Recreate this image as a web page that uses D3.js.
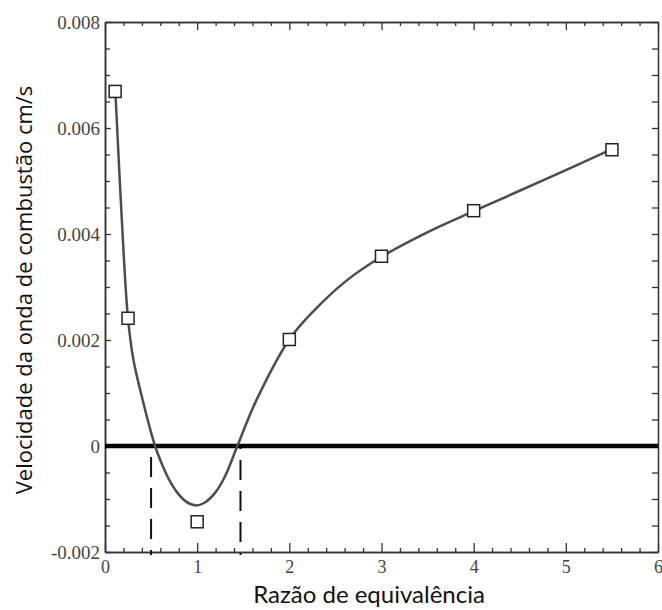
<!DOCTYPE html>
<html lang="pt">
<head>
    <meta charset="UTF-8">
    <title>Velocidade da onda de combustão</title>
    <script src="https://cdnjs.cloudflare.com/ajax/libs/d3/7.8.5/d3.min.js"></script>
    <style type="text/css">
        body {
            margin: 0;
            background: #fff;
        }
    </style>
</head>
<body>
<div class="container"></div>
<script>
    // measured points (squares)
    const pointX = [0.11, 0.25, 1, 2, 3, 4, 5.5];
    const pointY = [0.00669, 0.00241, -0.00143, 0.00201, 0.00358, 0.00444, 0.00559];

    // fitted curve
    const curveX = [0.115, 0.2, 0.25, 0.307, 0.38, 0.543, 0.63, 0.7, 0.78, 0.88, 0.98, 1.08, 1.2, 1.3, 1.436, 1.647, 2.0, 2.26, 2.62, 3.0, 3.53, 4.0, 4.8, 5.5];
    const curveY = [0.0066, 0.0037, 0.0024, 0.00164, 0.00107, 0, -0.00039, -0.00065, -0.00087, -0.00105, -0.00112, -0.00107, -0.00087, -0.00058, 0, 0.00088, 0.00201, 0.00254, 0.00312, 0.00357, 0.00406, 0.00443, 0.00505, 0.0056];

    // dashed markers where the curve crosses zero
    const dashX = [0.5, 1.47];

    const xTicks = [0, 1, 2, 3, 4, 5, 6];
    const yTicks = [-0.002, 0, 0.002, 0.004, 0.006, 0.008];

    const points = pointX.map((x, i) => ({x: x, y: pointY[i]}));
    const curve = curveX.map((x, i) => ({x: x, y: curveY[i]}));

    const width = 662;
    const height = 610;
    const margin = {top: 22, right: 4, bottom: 58, left: 105};

    const svg = d3.select('.container')
        .append('svg')
        .attr('width', width)
        .attr('height', height);

    const xScale = d3.scaleLinear()
        .domain([0, 6])
        .range([margin.left, width - margin.right]);

    const yScale = d3.scaleLinear()
        .domain([-0.002, 0.008])
        .range([height - margin.bottom, margin.top]);

    const minorX = d3.range(0, 30.5).map(d => d / 5).filter(d => d % 1 !== 0);
    const minorY = d3.range(-4, 16.5).map(d => d / 2000).filter((d, i) => i % 4 !== 0);

    const frameColor = '#333';

    function styleAxis(g, size) {
        g.select('.domain').attr('stroke', frameColor).attr('stroke-width', 1.5);
        g.selectAll('.tick line').attr('stroke', frameColor).attr('stroke-width', 1.3);
        g.selectAll('.tick text')
            .attr('fill', '#444')
            .attr('font-family', '"Liberation Serif", "Times New Roman", serif')
            .attr('font-size', size || 18);
    }

    // bottom
    svg.append('g')
        .attr('transform', 'translate(0,' + yScale(-0.002) + ')')
        .call(d3.axisBottom(xScale).tickValues(minorX).tickFormat('').tickSizeInner(-4).tickSizeOuter(0))
        .call(styleAxis);
    svg.append('g')
        .attr('transform', 'translate(0,' + yScale(-0.002) + ')')
        .call(d3.axisBottom(xScale).tickValues(xTicks).tickFormat(d3.format('d')).tickSizeInner(-9).tickSizeOuter(0).tickPadding(8))
        .call(styleAxis, 18);

    // top
    svg.append('g')
        .attr('transform', 'translate(0,' + yScale(0.008) + ')')
        .call(d3.axisTop(xScale).tickValues(minorX).tickFormat('').tickSizeInner(-4).tickSizeOuter(0))
        .call(styleAxis);
    svg.append('g')
        .attr('transform', 'translate(0,' + yScale(0.008) + ')')
        .call(d3.axisTop(xScale).tickValues(xTicks).tickFormat('').tickSizeInner(-8).tickSizeOuter(0))
        .call(styleAxis);

    // left
    svg.append('g')
        .attr('transform', 'translate(' + xScale(0) + ',0)')
        .call(d3.axisLeft(yScale).tickValues(minorY).tickFormat('').tickSizeInner(-5).tickSizeOuter(0))
        .call(styleAxis);
    svg.append('g')
        .attr('transform', 'translate(' + xScale(0) + ',0)')
        .call(d3.axisLeft(yScale).tickValues(yTicks)
            .tickFormat(d => d === 0 ? '0' : d3.format('.3f')(d).replace('\u2212', '-'))
            .tickSizeInner(-6).tickSizeOuter(0).tickPadding(5))
        .call(styleAxis, 19);

    // right
    svg.append('g')
        .attr('transform', 'translate(' + xScale(6) + ',0)')
        .call(d3.axisRight(yScale).tickValues(minorY.concat(yTicks)).tickFormat('').tickSizeInner(-6).tickSizeOuter(0))
        .call(styleAxis);

    // zero line
    svg.append('line')
        .attr('x1', xScale(0))
        .attr('x2', xScale(6))
        .attr('y1', yScale(0))
        .attr('y2', yScale(0))
        .attr('stroke', '#000')
        .attr('stroke-width', 4.5);

    // dashed verticals
    svg.selectAll('line.dash')
        .data(dashX)
        .enter()
        .append('line')
        .attr('class', 'dash')
        .attr('x1', d => xScale(d))
        .attr('x2', d => xScale(d))
        .attr('y1', yScale(0) + 2)
        .attr('y2', yScale(-0.002) + 3)
        .attr('stroke', '#111')
        .attr('stroke-width', 2)
        .attr('stroke-dasharray', '20,11')
        .attr('stroke-dashoffset', (d, i) => i === 0 ? 22 : 19);

    // curve
    const line = d3.line()
        .x(d => xScale(d.x))
        .y(d => yScale(d.y))
        .curve(d3.curveCatmullRom.alpha(0.5));

    svg.append('path')
        .attr('fill', 'none')
        .attr('stroke', '#4d4d4d')
        .attr('stroke-width', 2.5)
        .attr('d', line(curve));

    // squares
    const size = 12;
    svg.selectAll('rect.pt')
        .data(points)
        .enter()
        .append('rect')
        .attr('class', 'pt')
        .attr('x', d => xScale(d.x) - size / 2)
        .attr('y', d => yScale(d.y) - size / 2)
        .attr('width', size)
        .attr('height', size)
        .attr('fill', '#fff')
        .attr('stroke', '#222')
        .attr('stroke-width', 1.5);

    // axis titles
    svg.append('text')
        .text('Razão de equivalência')
        .attr('x', 369)
        .attr('y', 603)
        .attr('text-anchor', 'middle')
        .attr('fill', '#111')
        .attr('font-family', 'Lato, sans-serif')
        .attr('font-size', 24);

    svg.append('text')
        .text('Velocidade da onda de combustão cm/s')
        .attr('transform', 'translate(32,290) rotate(-90)')
        .attr('text-anchor', 'middle')
        .attr('fill', '#111')
        .attr('font-family', '"Open Sans", sans-serif')
        .attr('font-size', 22);
</script>
</body>
</html>
